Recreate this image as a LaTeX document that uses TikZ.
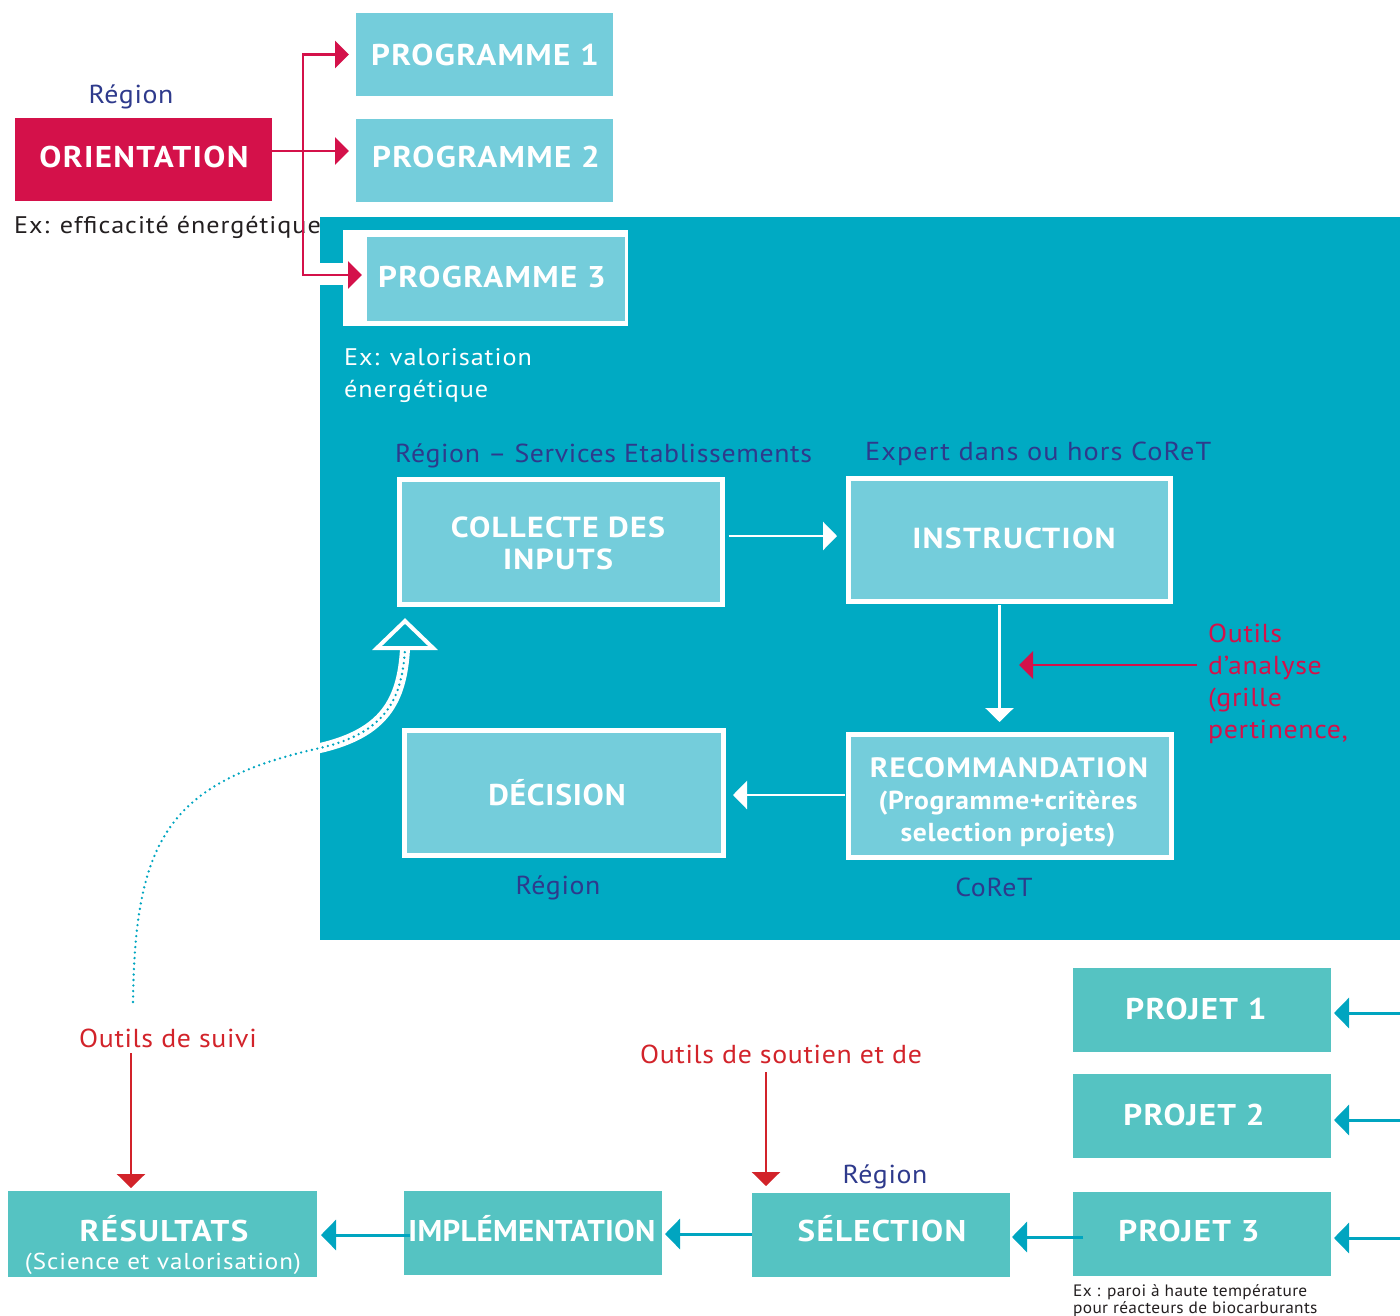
\documentclass[tikz,border=0pt]{standalone}
\usepackage{fontspec}
\setmainfont{PT Sans}
\newfontfamily\fRa{PT Sans}[FakeStretch=1.07, LetterSpace=2.5]
\newfontfamily\fRb{PT Sans}[FakeStretch=1.09, LetterSpace=4]
\newfontfamily\fRc{PT Sans}[FakeStretch=1.05, LetterSpace=2]
\newfontfamily\fBa{PT Sans}[FakeStretch=1.1, LetterSpace=4.5]
\newfontfamily\fBb{PT Sans}[FakeStretch=1.06, LetterSpace=2.5]
\newfontfamily\fBc{PT Sans}[FakeStretch=1.03, LetterSpace=1]
\usetikzlibrary{arrows.meta}
\definecolor{lteal}{HTML}{74CDDB}
\definecolor{bteal}{HTML}{00AAC3}
\definecolor{gteal}{HTML}{55C3C2}
\definecolor{crim}{HTML}{D4114A}
\definecolor{rred}{HTML}{D2232A}
\definecolor{dblue}{HTML}{2E3A8C}
\definecolor{dgray}{HTML}{231F20}
\definecolor{aqua}{HTML}{00A5C0}
\tikzset{
  box/.style={rectangle, inner sep=0pt, outer sep=0pt},
  lbox/.style={box, fill=lteal},
  wbox/.style={box, fill=lteal, draw=white, line width=5pt},
  gbox/.style={box, fill=gteal},
  btxt/.style={inner sep=0pt, anchor=base, text=white, font=\fontsize{30}{32}\fBa\bfseries},
  bluelab/.style={inner sep=0pt, anchor=base, text=dblue, font=\fontsize{26}{32}\fRa},
  graylab/.style={inner sep=0pt, anchor=base west, text=dgray, font=\fontsize{24}{32}\fRb},
  whitelab/.style={inner sep=0pt, anchor=base west, text=white, font=\fontsize{24}{32}\fRb},
  crimlab/.style={inner sep=0pt, anchor=base west, text=crim, font=\fontsize{26}{32}\fRa},
  redlab/.style={inner sep=0pt, anchor=base, text=rred, font=\fontsize{26}{32}\fRa},
  crimarrow/.style={draw=crim, line width=2.5pt, -{Triangle[length=14pt,width=27pt]}},
  redarrow/.style={draw=rred, line width=2.5pt, -{Triangle[length=14pt,width=28pt]}},
  warrow/.style={draw=white, line width=2.5pt, -{Triangle[length=14pt,width=28pt]}},
  tarrow/.style={draw=aqua, line width=3pt, -{Triangle[length=15pt,width=30pt]}},
}
\begin{document}
\begin{tikzpicture}[x=1pt,y=-1pt]
\useasboundingbox (0,0) rectangle (1400,1315);
% big teal area
\fill[bteal] (320,217) rectangle (1400,940);
% white frame of programme 3
\fill[white] (343,230) rectangle (628,326);
\fill[white] (320,263) rectangle (343,285);

% top part
\node[bluelab] (reg1) at (131,103) {Région};
\node[box, fill=crim, minimum width=257pt, minimum height=83pt] (orient) at (143.5,159.5) {};
\node[btxt] (orientt) at (144,167) {ORIENTATION};
\node[graylab] (ex1) at (14,233) {Ex: efficacité énergétique};

\node[lbox, minimum width=257pt, minimum height=83pt] (p1) at (484.5,54.5) {};
\node[btxt] (p1t) at (485,65) {PROGRAMME 1};
\node[lbox, minimum width=257pt, minimum height=83pt] (p2) at (484.5,160.5) {};
\node[btxt] (p2t) at (486,167) {PROGRAMME 2};
\node[lbox, minimum width=258pt, minimum height=84pt] (p3) at (496,279) {};
\node[btxt] (p3t) at (492,287) {PROGRAMME 3};

\coordinate (br) at (303,151);
\draw[crimarrow, shorten >=7pt] (orient.east |- br) -- (p2.west |- br);
\draw[crimarrow, shorten >=7pt] (br) |- (p1.west);
\draw[crimarrow, shorten >=5pt] (br) |- ([yshift=4pt]p3.west);

\node[whitelab] (ex2) at (344,365) {Ex: valorisation};
\node[whitelab] (ex2b) at (344,397) {énergétique};

% cycle
\node[bluelab, anchor=base west] (rse) at (395,462) {Région – Services Etablissements};
\node[bluelab, anchor=base west, font=\fontsize{26}{32}\fRb] (exp) at (865,460) {Expert dans ou hors CoReT};

\node[wbox, minimum width=323pt, minimum height=125pt] (coll) at (561,542) {};
\node[btxt, font=\fontsize{29}{32}\fBa\bfseries] (collt) at (558,537) {COLLECTE DES};
\node[btxt, font=\fontsize{29}{32}\fBa\bfseries] (collt2) at (558,569) {INPUTS};

\node[wbox, minimum width=322pt, minimum height=123pt] (instr) at (1009.5,540) {};
\node[btxt, font=\fontsize{29}{32}\fBa\bfseries] (instrt) at (1014,548) {INSTRUCTION};

\node[wbox, minimum width=323pt, minimum height=123pt] (reco) at (1010,796) {};
\node[btxt, font=\fontsize{28}{32}\fBa\bfseries] (recot1) at (1009,777) {RECOMMANDATION};
\node[btxt, font=\fontsize{26}{32}\fBb\bfseries] (recot2) at (1008,809) {(Programme+critères};
\node[btxt, font=\fontsize{26}{32}\fBb\bfseries] (recot3) at (1008,841) {selection projets)};

\node[wbox, minimum width=319pt, minimum height=125pt] (dec) at (564,793) {};
\node[btxt, font=\fontsize{30}{32}\fBb\bfseries] (dect) at (557,805) {DÉCISION};

\node[bluelab] (reg2) at (558,894) {Région};
\node[bluelab] (coret) at (994,896) {CoReT};

\draw[warrow] ([xshift=6pt]coll.east |- 0,536) -- (837,536);
\draw[warrow] (999.5,605) -- (999.5,722);
\draw[warrow] (845,795) -- (733,795);

\node[crimlab] (outa) at (1208,642) {Outils};
\node[crimlab] (outb) at (1208,674) {d’analyse};
\node[crimlab] (outc) at (1208,706) {(grille};
\node[crimlab] (outd) at (1208,738) {pertinence,};
\coordinate (oa) at (1197,665);
\coordinate (ob) at (1019,665);
\draw[crimarrow] (oa) -- (ob);

% dotted feedback curve
\coordinate (ds) at (133,1002);
\coordinate (de) at (405,649);
\begin{scope}
\clip (320,217) rectangle (1400,940);
\draw[white, line width=10pt] (ds) .. controls (135,840) and (168,782) .. (320,748) .. controls (385,733) and (402,700) .. (de);
\end{scope}
\draw[aqua, line width=2.6pt, line cap=round, dash pattern=on 0pt off 5.5pt] (ds) .. controls (135,840) and (168,782) .. (320,748) .. controls (385,733) and (402,700) .. (de);
\draw[white, line width=4pt, line join=miter] (377,648) -- (405,621) -- (433,648) -- cycle;

% bottom part
\node[redlab] (suivi) at (168,1047) {Outils de suivi};
\node[gbox, minimum width=309pt, minimum height=86pt] (res) at (162.5,1234) {};
\node[btxt] (rest) at (164,1241) {RÉSULTATS};
\node[inner sep=0pt, anchor=base, text=white, font=\fontsize{23}{32}\fRb] (rest2) at (163,1269) {(Science et valorisation)};
\draw[redarrow] (131,1053) -- (131,1188);

\node[gbox, minimum width=258pt, minimum height=84pt] (impl) at (533,1233) {};
\node[btxt, font=\fontsize{30}{32}\fBc\bfseries] (implt) at (532,1241) {IMPLÉMENTATION};

\node[gbox, minimum width=258pt, minimum height=84pt] (sel) at (881,1235) {};
\node[btxt] (selt) at (882,1241) {SÉLECTION};
\node[bluelab] (reg3) at (885,1183) {Région};
\node[redlab] (sout) at (781,1063) {Outils de soutien et de};
\draw[redarrow] (766,1072) -- (766,1186);

\node[gbox, minimum width=258pt, minimum height=84pt] (pj1) at (1202,1010) {};
\node[btxt] (pj1t) at (1196,1019) {PROJET 1};
\node[gbox, minimum width=258pt, minimum height=84pt] (pj2) at (1202,1116) {};
\node[btxt] (pj2t) at (1194,1125) {PROJET 2};
\node[gbox, minimum width=258pt, minimum height=84pt] (pj3) at (1202,1234) {};
\node[btxt] (pj3t) at (1189,1241) {PROJET 3};
\node[inner sep=0pt, anchor=base west, text=dgray, font=\fontsize{16.5}{18}\fRc] (exp1) at (1073,1296) {Ex : paroi à haute température};
\node[inner sep=0pt, anchor=base west, text=dgray, font=\fontsize{16.5}{18}\fRc] (exp2) at (1073,1313) {pour réacteurs de biocarburants};

\coordinate (r1) at (1400,1013);
\coordinate (r2) at (1400,1120);
\coordinate (r3) at (1400,1238);
\draw[tarrow] (r1) -- (1334,1013);
\draw[tarrow] (r2) -- (1334,1120);
\draw[tarrow] (r3) -- (1334,1238);
\draw[tarrow] ([xshift=10pt]pj3.west |- 0,1237) -- (1012,1237);
\draw[tarrow] (sel.west |- 0,1234) -- (665,1234);
\draw[tarrow] ([xshift=6pt]impl.west |- 0,1235) -- (321,1235);
\end{tikzpicture}
\end{document}
